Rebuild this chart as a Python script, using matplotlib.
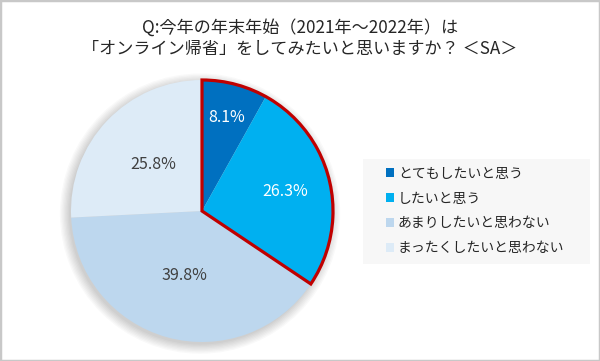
import matplotlib
matplotlib.use("Agg")
import matplotlib.pyplot as plt
from matplotlib.patches import Wedge, Circle, Rectangle
import numpy as np

plt.rcParams['font.family'] = ['Noto Sans CJK JP', 'DejaVu Sans']

categories = ['とてもしたいと思う', 'したいと思う', 'あまりしたいと思わない', 'まったくしたいと思わない']
values = [8.1, 26.3, 39.8, 25.8]
colors = ['#0070C0', '#00B0F0', '#BDD7EE', '#DDEBF7']
label_colors = ['white', 'white', '#404040', '#404040']
label_radius = [0.74, 0.65, 0.51, 0.51]

title = "Q:今年の年末年始（2021年～2022年）は\n「オンライン帰省」をしてみたいと思いますか？ ＜SA＞"

W, H = 600, 361
fig = plt.figure(figsize=(W / 100, H / 100), dpi=100)

# pie axes: centre ~ (202, 150) px, radius ~131 px
lim = 1.1
side = 131 * 2 * lim
ax = fig.add_axes([(202 - side / 2) / W, (150 - side / 2) / H, side / W, side / H])

# soft shadow around the pie
for r in np.linspace(1.0, 1.07, 8):
    ax.add_patch(Circle((-0.015, -0.02), r, facecolor='black', alpha=0.025, edgecolor='none', zorder=0))

wedges, _ = ax.pie(values, colors=colors, startangle=90, counterclock=False,
                   wedgeprops=dict(linewidth=0))
for w in wedges:
    w.set_zorder(2)

for w, v, c, rr in zip(wedges, values, label_colors, label_radius):
    mid = np.deg2rad((w.theta1 + w.theta2) / 2)
    ax.text(rr * np.cos(mid), rr * np.sin(mid), f"{v}%", ha='center', va='center',
            fontsize=11.5, color=c, zorder=5)

# red outline around the two "want to" slices
outline = Wedge((0, 0), 1.0, wedges[1].theta1, wedges[0].theta2, facecolor='none',
                edgecolor='#C00000', linewidth=2.3, joinstyle='miter', zorder=4)
ax.add_patch(outline)

ax.set_xlim(-lim, lim)
ax.set_ylim(-lim, lim)
ax.set_aspect('equal')
ax.axis('off')

fig.text(0.5, 1 - 38 / H, title, ha='center', va='center', fontsize=12.3,
         color='#262626', linespacing=1.25)

# legend background box
fig.patches.append(Rectangle((363 / W, 1 - 264 / H), (590 - 363) / W, (264 - 159) / H,
                             transform=fig.transFigure, facecolor='#F7F7F7',
                             edgecolor='none', zorder=0))

leg = fig.legend(wedges, categories, loc='center left',
                 bbox_to_anchor=(386 / W, 1 - 211 / H), frameon=False,
                 fontsize=10, handlelength=0.6, handleheight=0.6, handletextpad=0.25,
                 labelspacing=0.78, borderpad=0, borderaxespad=0)
for t in leg.get_texts():
    t.set_color('#262626')

fig.patches.append(Rectangle((0, 0), 1, 1, transform=fig.transFigure, fill=False,
                             edgecolor='#C8C8C8', linewidth=2.5))

fig.savefig("out.png", dpi=100)
